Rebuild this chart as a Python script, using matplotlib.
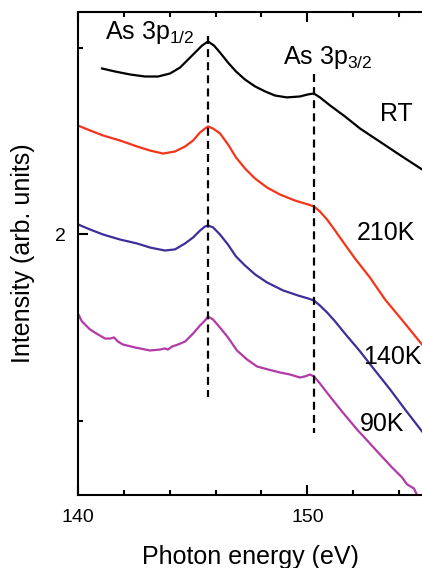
# -*- coding: utf-8 -*-
import matplotlib
matplotlib.use("Agg")
import matplotlib.pyplot as plt
from matplotlib.ticker import MultipleLocator

plt.rcParams['font.family'] = ['Liberation Sans', 'DejaVu Sans']
plt.rcParams['mathtext.fontset'] = 'custom'
plt.rcParams['mathtext.rm'] = 'Liberation Sans'
plt.rcParams['mathtext.it'] = 'Liberation Sans'

# data
e_rt = [141.05, 141.61, 142.27, 142.92, 143.49, 144.01, 144.45, 144.80, 145.15, 145.41,
        145.67, 145.93, 146.19, 146.54, 146.89, 147.28, 147.72, 148.16, 148.59, 149.11,
        149.68, 150.03, 150.29, 150.55, 150.99, 151.64, 152.30, 152.95, 153.61, 154.26,
        155.0]
i_rt = [2.890, 2.874, 2.858, 2.847, 2.847, 2.863, 2.895, 2.938, 2.981, 3.013,
        3.035, 3.013, 2.976, 2.922, 2.874, 2.831, 2.794, 2.767, 2.745, 2.735,
        2.740, 2.751, 2.756, 2.735, 2.692, 2.633, 2.568, 2.515, 2.461, 2.408,
        2.349]

e_210 = [140.00, 140.52, 141.09, 141.83, 142.57, 143.14, 143.71, 144.23, 144.67, 145.02,
         145.32, 145.54, 145.67, 145.89, 146.19, 146.54, 146.89, 147.28, 147.72, 148.24,
         148.81, 149.46, 150.03, 150.29, 150.55, 150.86, 151.21, 151.64, 152.08, 152.73,
         153.39, 154.04, 155.0]
i_210 = [2.584, 2.558, 2.531, 2.504, 2.472, 2.450, 2.434, 2.445, 2.472, 2.504,
         2.547, 2.568, 2.579, 2.568, 2.542, 2.483, 2.413, 2.354, 2.300, 2.252,
         2.214, 2.182, 2.161, 2.150, 2.123, 2.080, 2.021, 1.946, 1.871, 1.769,
         1.651, 1.555, 1.410]

e_140 = [140.00, 140.52, 141.09, 141.83, 142.57, 143.14, 143.79, 144.23, 144.67, 145.02,
         145.32, 145.54, 145.67, 145.89, 146.19, 146.54, 146.89, 147.28, 147.72, 148.24,
         148.94, 149.59, 150.03, 150.29, 150.55, 150.86, 151.21, 151.64, 152.30, 152.95,
         153.61, 154.26, 155.0]
i_140 = [2.054, 2.027, 2.000, 1.973, 1.952, 1.930, 1.914, 1.920, 1.952, 1.984,
         2.021, 2.043, 2.048, 2.038, 2.000, 1.946, 1.882, 1.834, 1.786, 1.743,
         1.700, 1.673, 1.657, 1.646, 1.619, 1.582, 1.534, 1.469, 1.373, 1.271,
         1.169, 1.062, 0.944]

e_90 = [140.00, 140.17, 140.52, 140.87, 141.18, 141.40, 141.57, 141.74, 141.96, 142.49,
        143.14, 143.58, 143.79, 143.92, 144.10, 144.36, 144.67, 145.02, 145.32, 145.54,
        145.67, 145.89, 146.19, 146.54, 146.93, 147.37, 147.81, 148.29, 148.81, 149.25,
        149.68, 149.90, 150.12, 150.29, 150.55, 150.99, 151.51, 152.17, 152.65, 153.17,
        153.69, 154.13, 154.35, 154.65, 154.83]
i_90 = [1.576, 1.534, 1.491, 1.464, 1.442, 1.442, 1.448, 1.426, 1.410, 1.394,
        1.378, 1.383, 1.389, 1.383, 1.399, 1.410, 1.426, 1.469, 1.512, 1.539,
        1.560, 1.544, 1.501, 1.448, 1.378, 1.330, 1.292, 1.276, 1.260, 1.249,
        1.233, 1.239, 1.249, 1.239, 1.201, 1.131, 1.051, 0.954, 0.890, 0.820,
        0.751, 0.697, 0.660, 0.638, 0.590]

peak_12 = 145.67
peak_32 = 150.29

fig = plt.figure(figsize=(4.22, 5.68), dpi=100)
ax = fig.add_axes([0.1848, 0.1285, 0.8152, 0.8504])

ax.plot(e_rt, i_rt, color="black", linewidth=1.6)
ax.plot(e_210, i_210, color="#f5341a", linewidth=1.6)
ax.plot(e_140, i_140, color="#3d2f9a", linewidth=1.6)
ax.plot(e_90, i_90, color="#b23aa6", linewidth=1.6)

ax.plot([peak_12, peak_12], [3.062, 1.131], color="black", linewidth=1.6,
        linestyle=(0, (3.6, 2.3)))
ax.plot([peak_32, peak_32], [2.858, 0.933], color="black", linewidth=1.6,
        linestyle=(0, (3.6, 2.3)))

fs = 18
ax.text(141.18, 3.046, r"As 3p$_{\mathrm{1/2}}$", fontsize=fs, va="baseline")
ax.text(148.94, 2.912, r"As 3p$_{\mathrm{3/2}}$", fontsize=fs, va="baseline")
ax.text(153.17, 2.606, "RT", fontsize=fs, va="baseline")
ax.text(152.17, 1.973, "210K", fontsize=fs, va="baseline")
ax.text(152.43, 1.308, "140K", fontsize=fs, va="baseline")
ax.text(152.30, 0.944, "90K", fontsize=fs, va="baseline")

ax.set_xlim(140, 155)
ax.set_ylim(0.603, 3.193)
ax.xaxis.set_major_locator(MultipleLocator(10))
ax.xaxis.set_minor_locator(MultipleLocator(2))
ax.yaxis.set_major_locator(MultipleLocator(2))
ax.yaxis.set_minor_locator(MultipleLocator(1))

for s in ["left", "bottom", "top"]:
    ax.spines[s].set_linewidth(1.5)
ax.spines["right"].set_visible(False)
ax.tick_params(which="both", direction="in", top=True, right=False, width=1.5,
               labelsize=14)
ax.tick_params(which="major", length=7)
ax.tick_params(which="minor", length=3.5)
ax.tick_params(axis="x", pad=10)
ax.tick_params(axis="y", pad=9)

ax.set_xlabel("Photon energy (eV)", fontsize=18, labelpad=14)
ax.set_ylabel("Intensity (arb. units)", fontsize=18, labelpad=14)

fig.savefig("out.png", dpi=100)
